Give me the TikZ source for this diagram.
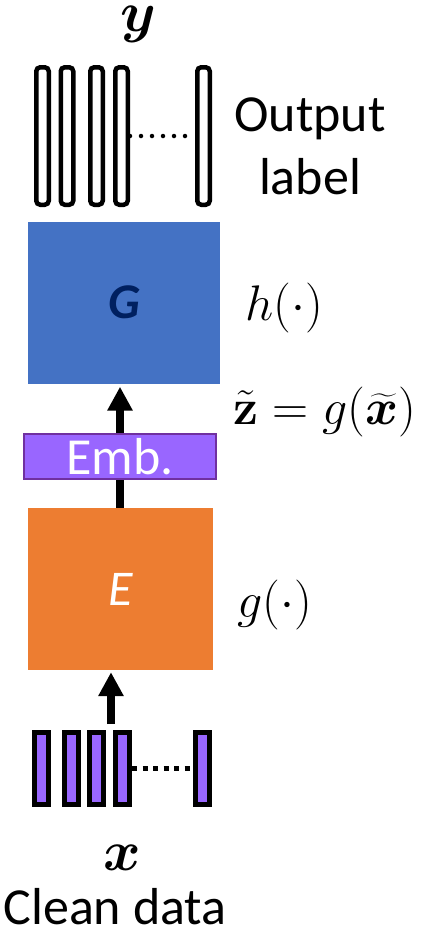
\RequirePackage{fix-cm}
\documentclass[tikz,border=0pt]{standalone}
\usepackage{amsmath}
\usepackage{bm}
\usepackage[no-math]{fontspec}
\setmainfont{Carlito}
\usepackage{tikz}
\usepackage{xcolor}
\usetikzlibrary{positioning}
\usetikzlibrary{arrows.meta}
\definecolor{genblue}{HTML}{4472C4}
\definecolor{gennavy}{HTML}{002060}
\definecolor{encorange}{HTML}{ED7D31}
\definecolor{embfill}{HTML}{9966FF}
\definecolor{embline}{HTML}{7030A0}
\tikzset{
  % One slot of the output label vector
  outslot/.style={
    draw=black, fill=white, line width=4.5pt, rounded corners=4pt,
    minimum width=12.5pt, minimum height=137.5pt, inner sep=0pt},
  % One slot of the clean input vector
  inslot/.style={
    draw=black, fill=embfill, line width=5pt,
    minimum width=14pt, minimum height=72pt, inner sep=0pt},
  % A network block (encoder / generator)
  block/.style={
    draw=none, rectangle, inner sep=0pt, minimum width=#1, minimum height=162pt},
  % The embedding bar
  embbar/.style={
    draw=embline, fill=embfill, line width=2pt, text=white, inner sep=0pt,
    minimum width=192pt, minimum height=45pt, font=\fontsize{52}{63}\selectfont},
  % Plain text and math
  txt/.style={font=\fontsize{52}{63}\selectfont, inner sep=0pt, align=center},
  mth/.style={font=\fontsize{50}{60}\selectfont, inner sep=0pt},
  vec/.style={font=\fontsize{57}{68}\selectfont, inner sep=0pt},
  % Links
  flow/.style={-{Triangle[width=24pt,length=24pt]}, draw=black, line width=8pt},
  stem/.style={draw=black, line width=8pt},
  dots/.style={draw=black, line width=4.5pt, line cap=round, dash pattern=on 0pt off 11pt},
  sqdots/.style={draw=black, line width=5pt, dash pattern=on 5pt off 5.5pt},
}

\begin{document}
\begin{tikzpicture}[x=1pt,y=-1pt]
\useasboundingbox (0,0) rectangle (423,930);

% output label vector
\foreach \nm/\cx in {o1/42.5, o2/67, o3/96.5, o4/121.5, o5/203.5}
  \node[outslot] (\nm) at (\cx,136) {};
\draw[dots] (o4.east) -- (o5.west);
\node[vec, anchor=base] (ylab) at (138,31) {$\bm{y}$};
\node[txt] (outlbl) at (310,146) {Output\\label};

% generator, embedding, encoder
\node[block=192pt, fill=genblue, text=gennavy,
  font=\fontsize{50}{60}\selectfont\bfseries\itshape] (gen) at (124,302.5) {G};
\node[embbar] (emb) at (120,456.5) {Emb.};
\node[block=185pt, fill=encorange, text=white,
  font=\fontsize{50}{60}\selectfont\itshape] (enc) at (120.5,589) {E};

\node[mth, right=25pt of gen, yshift=-5pt] (hlbl) {$h(\cdot)$};
\node[mth, anchor=base] (zlbl) at (325,424) {$\tilde{\mathbf{z}} = g(\widetilde{\bm{x}})$};
\node[mth, right=24pt of enc, yshift=-16pt] (glbl) {$g(\cdot)$};

\draw[stem] (enc.north -| emb.center) -- (emb.south);
\draw[flow, shorten >=3pt] (emb.north) -- (gen.south -| emb.north);

% clean input vector
\foreach \nm/\cx in {i1/41.5, i2/71, i3/96.5, i4/122.5, i5/202}
  \node[inslot] (\nm) at (\cx,768.5) {};
\draw[sqdots] (i4.east) -- (i5.west);

\coordinate (xin) at (111,724);
\draw[flow, shorten >=2pt] (xin) -- (xin |- enc.south);

\node[vec, anchor=base] (xlab) at (122,870) {$\bm{x}$};
\node[txt, anchor=base] (clean) at (115,924) {Clean data};

\end{tikzpicture}
\end{document}
